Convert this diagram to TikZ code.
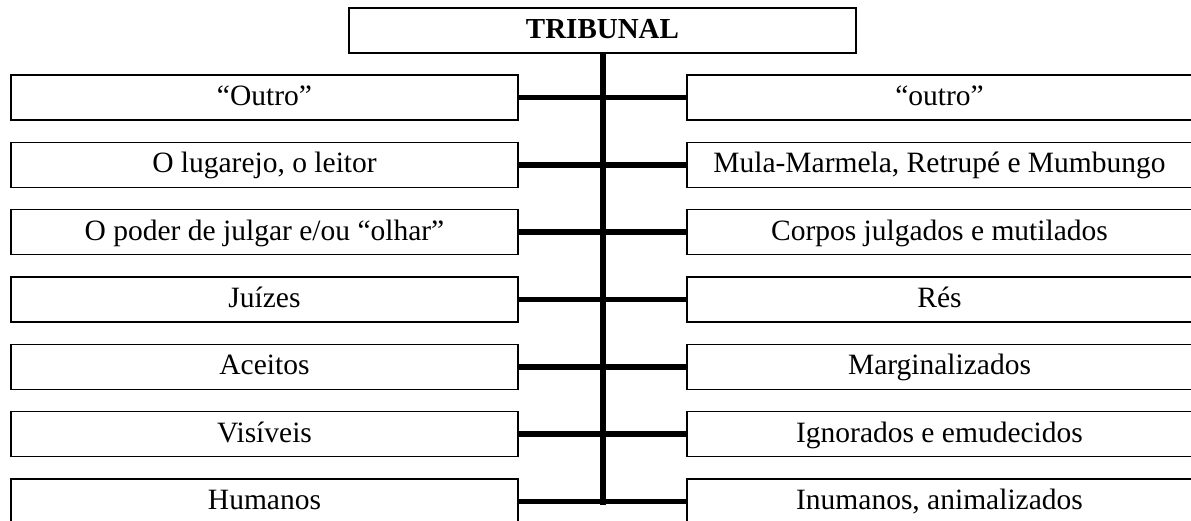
\documentclass[tikz,border=0pt]{standalone}
\usepackage{fontspec}
\setmainfont{Liberation Serif}
\begin{document}
\begin{tikzpicture}[x=1pt,y=1pt,
  lbox/.style={draw=black, line width=1.3pt, minimum width=507pt, minimum height=45pt, inner sep=0pt,
    font=\fontsize{29.5}{31}\selectfont, text height=22pt, text depth=6pt},
  rbox/.style={lbox, minimum width=505pt},
  titlebox/.style={lbox, font=\fontsize{29}{31}\selectfont\bfseries},
  spine/.style={line width=6.5pt},
  arm/.style={line width=5.5pt}]
\useasboundingbox (0,0) rectangle (1191,-520);
\clip (0,0) rectangle (1191,-520);
\node[titlebox] (t) at (602.5,-30.5) {TRIBUNAL};
\foreach \i/\lt/\rt in {
  1/{“Outro”}/{“outro”},
  2/{O lugarejo, o leitor}/{Mula-Marmela, Retrupé e Mumbungo},
  3/{O poder de julgar e/ou “olhar”}/{Corpos julgados e mutilados},
  4/{Juízes}/{Rés},
  5/{Aceitos}/{Marginalizados},
  6/{Visíveis}/{Ignorados e emudecidos},
  7/{Humanos}/{Inumanos, animalizados}}{
  \pgfmathsetmacro{\yy}{-(97.5+67.33*(\i-1))}
  \node[lbox] (l\i) at (264.5,\yy) {\lt};
  \node[rbox] (r\i) at (939.5,\yy) {\rt};
  \draw[arm] (l\i.east) -- (r\i.west);
}
\coordinate (sb) at (603,-504.5);
\draw[spine] (t.south -| sb) -- (sb);
\end{tikzpicture}
\end{document}
